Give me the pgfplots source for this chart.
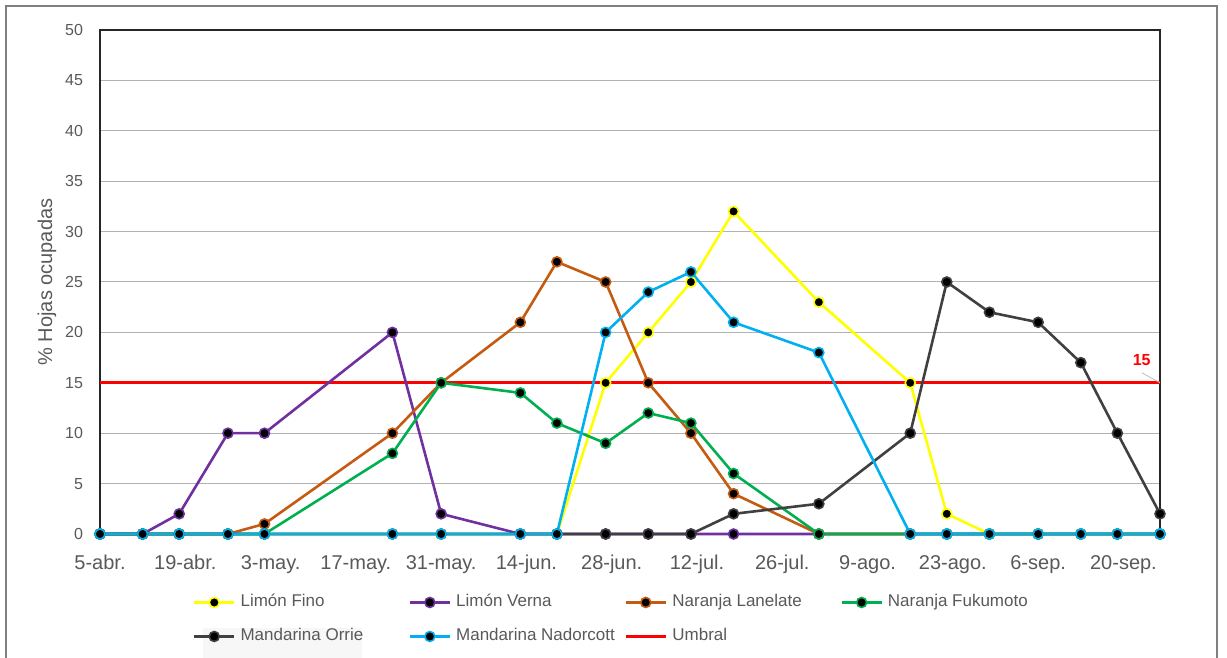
\documentclass[border=0pt]{standalone}
\usepackage{fontspec}
\setmainfont{Liberation Sans}
\usepackage{pgfplots}
\pgfplotsset{compat=1.18}
\usepackage{pgfplotstable}
\definecolor{cFino}{RGB}{255,255,0}
\definecolor{cVerna}{RGB}{112,48,160}
\definecolor{cLane}{RGB}{197,90,17}
\definecolor{cFuku}{RGB}{0,176,80}
\definecolor{cOrrie}{RGB}{64,64,64}
\definecolor{cNador}{RGB}{0,176,240}
\definecolor{txt}{RGB}{89,89,89}
\definecolor{gridc}{RGB}{178,178,178}
\definecolor{framec}{RGB}{127,127,127}

\pgfplotstableread{
d fino verna lane fuku orrie nador
0 0 0 0 0 0 0
7 0 0 0 0 0 0
13 0 2 0 0 0 0
21 0 10 0 0 0 0
27 0 10 1 0 0 0
48 0 20 10 8 0 0
56 0 2 15 15 0 0
69 0 0 21 14 0 0
75 0 0 27 11 0 0
83 15 0 25 9 0 20
90 20 0 15 12 0 24
97 25 0 10 11 0 26
104 32 0 4 6 2 21
118 23 0 0 0 3 18
133 15 0 0 0 10 0
139 2 0 0 0 25 0
146 0 0 0 0 22 0
154 0 0 0 0 21 0
161 0 0 0 0 17 0
167 0 0 0 0 10 0
174 0 0 0 0 2 0
}\datatable

\begin{document}
\begin{tikzpicture}
\useasboundingbox (-50pt,-62pt) rectangle (563.5pt,267pt);
\draw[line width=1pt, framec] (-47pt,-90pt) rectangle (558.5pt,264pt);
\fill[gray!6] (51.5pt,-70pt) rectangle (131pt,-47pt);
\begin{axis}[
 scale only axis, width=530pt, height=252pt,
 xmin=0, xmax=174, ymin=0, ymax=50,
 xtick={0,14,...,168},
 xticklabels={5-abr.,19-abr.,3-may.,17-may.,31-may.,14-jun.,28-jun.,12-jul.,26-jul.,9-ago.,23-ago.,6-sep.,20-sep.},
 ytick={0,5,...,50},
 ymajorgrids, grid style={gridc, line width=0.5pt},
 major tick length=0pt,
 axis line style={black!85, line width=0.6pt},
 tick label style={text=txt},
 xticklabel style={font=\fontsize{10}{12}\selectfont, yshift=-6.5pt, text height=7.5pt, text depth=2pt},
 yticklabel style={font=\fontsize{8}{10}\selectfont, xshift=-5pt},
 /pgf/number format/assume math mode=true,
 ylabel={\% Hojas ocupadas},
 ylabel style={at={(axis description cs:-0.050,0.5)}, anchor=center, font=\fontsize{10}{12}\selectfont, text=txt},
 legend columns=4,
 legend style={draw=none, fill=none, at={(axis description cs:0.0877,-0.119)}, anchor=north west, inner sep=0pt, outer sep=0pt, column sep=0pt, row sep=8.5pt, font=\fontsize{8.5}{10}\selectfont, nodes={text=txt, inner xsep=2.5pt, inner ysep=0pt, text height=6.5pt, text depth=2pt}},
 legend image code/.code={\draw[mark repeat=2,mark phase=2] plot coordinates {(0pt,0pt) (10pt,0pt) (20pt,0pt)};},
 every axis plot/.append style={line width=1.3pt, mark=*, mark size=2.5pt, mark options={fill=black, line width=0.8pt}},
 clip=false,
]
\addplot[red, line width=1.6pt, mark=none, forget plot] coordinates {(0,15) (174,15)};
\addplot[cFino] table[x=d,y=fino]{\datatable};
\addlegendentry{\makebox[81.5pt][l]{Limón Fino}}
\addplot[cVerna] table[x=d,y=verna]{\datatable};
\addlegendentry{\makebox[81.5pt][l]{Limón Verna}}
\addplot[cLane] table[x=d,y=lane]{\datatable};
\addlegendentry{\makebox[81.5pt][l]{Naranja Lanelate}}
\addplot[cFuku] table[x=d,y=fuku]{\datatable};
\addlegendentry{\makebox[81.5pt][l]{Naranja Fukumoto}}
\addplot[cOrrie] table[x=d,y=orrie]{\datatable};
\addlegendentry{\makebox[81.5pt][l]{Mandarina Orrie}}
\addplot[cNador] table[x=d,y=nador]{\datatable};
\addlegendentry{\makebox[81.5pt][l]{Mandarina Nadorcott}}
\addlegendimage{red, line width=1.6pt, mark=none}
\addlegendentry{\makebox[81.5pt][l]{Umbral}}
\draw[gray!50, line width=0.4pt] (axis cs:171,16.0) -- (axis cs:174,15);
\node[text=red, font=\bfseries\fontsize{8}{9}\selectfont, inner sep=0pt] at (axis cs:171,17.3) {15};
\end{axis}
\end{tikzpicture}
\end{document}
